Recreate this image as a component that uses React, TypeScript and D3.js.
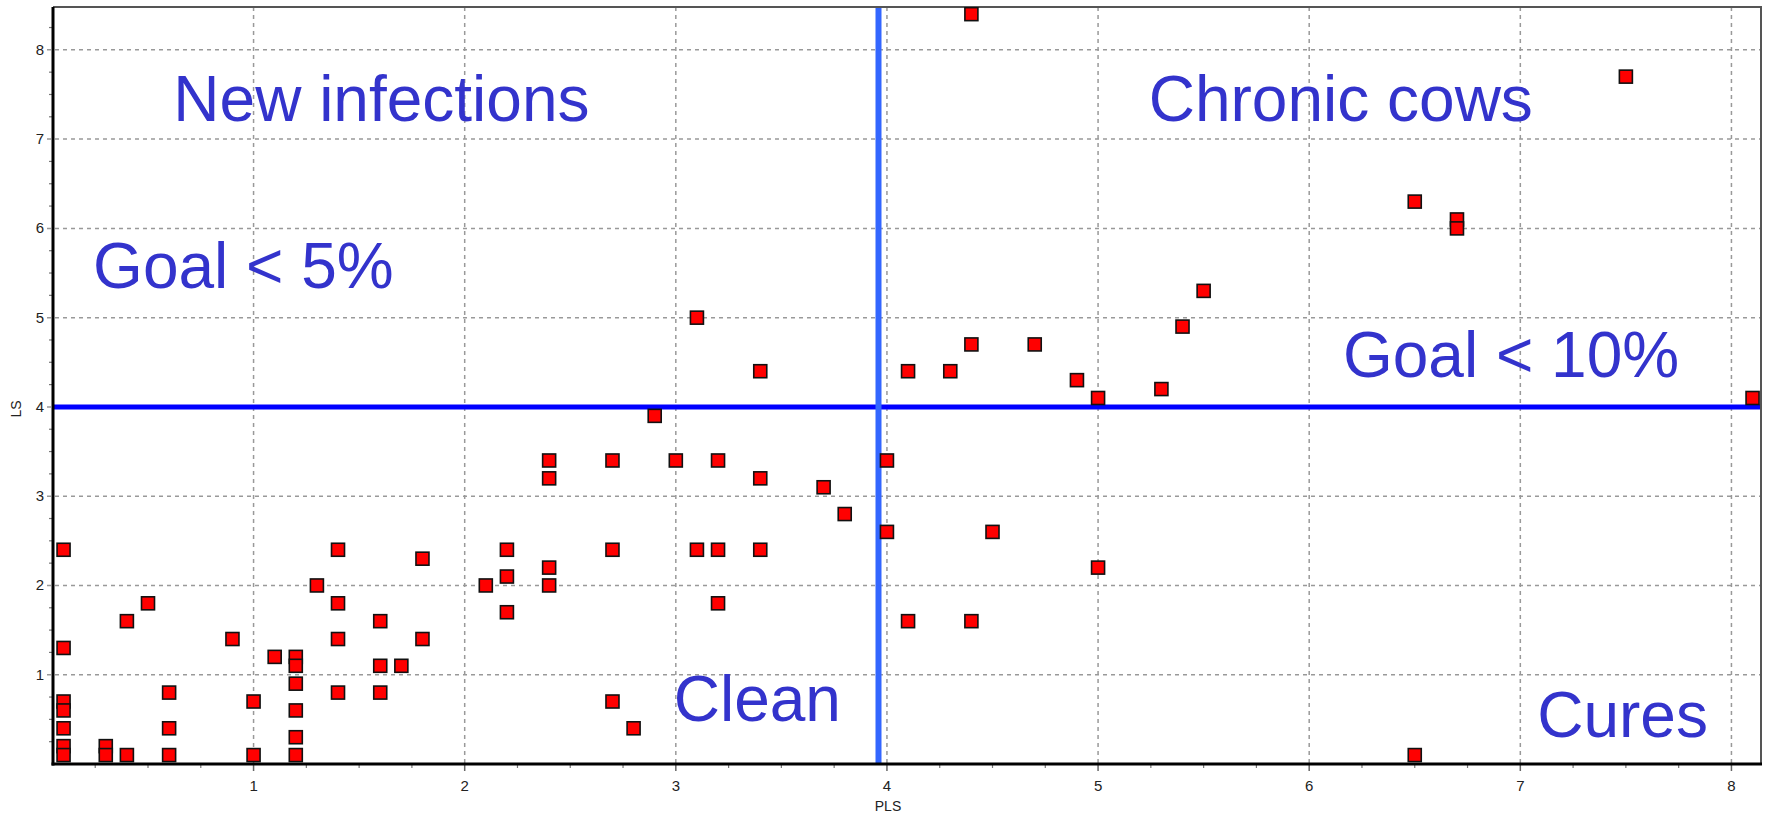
import React, { useEffect, useRef } from 'react';
import * as d3 from 'd3';

// PLS / LS pairs
const plsValues = [
  0.1, 0.1, 0.1, 0.1, 0.1, 0.1, 0.1,
  0.3, 0.3, 0.4, 0.4, 0.5, 0.6, 0.6, 0.6,
  0.9, 1.0, 1.0, 1.1, 1.2, 1.2, 1.2, 1.2, 1.2, 1.2,
  1.3, 1.4, 1.4, 1.4, 1.4, 1.6, 1.6, 1.6, 1.7, 1.8, 1.8,
  2.1, 2.2, 2.2, 2.2, 2.4, 2.4, 2.4, 2.4,
  2.7, 2.7, 2.7, 2.8, 2.9, 3.0, 3.1, 3.1, 3.2, 3.2, 3.2,
  3.4, 3.4, 3.4, 3.7, 3.8, 4.0, 4.0,
  4.1, 4.1, 4.3, 4.4, 4.4, 4.4, 4.5, 4.7, 4.9, 5.0, 5.0, 5.3, 5.4, 5.5,
  6.5, 6.7, 6.7, 7.5, 8.1, 6.5,
];
const lsValues = [
  2.4, 1.3, 0.7, 0.6, 0.4, 0.2, 0.1,
  0.2, 0.1, 0.1, 1.6, 1.8, 0.8, 0.4, 0.1,
  1.4, 0.7, 0.1, 1.2, 1.2, 1.1, 0.9, 0.6, 0.3, 0.1,
  2.0, 2.4, 1.8, 1.4, 0.8, 1.6, 1.1, 0.8, 1.1, 2.3, 1.4,
  2.0, 2.4, 2.1, 1.7, 3.4, 3.2, 2.2, 2.0,
  3.4, 2.4, 0.7, 0.4, 3.9, 3.4, 2.4, 5.0, 3.4, 2.4, 1.8,
  3.2, 2.4, 4.4, 3.1, 2.8, 3.4, 2.6,
  4.4, 1.6, 4.4, 4.7, 1.6, 8.4, 2.6, 4.7, 4.3, 4.1, 2.2, 4.2, 4.9, 5.3,
  6.3, 6.1, 6.0, 7.7, 4.1, 0.1,
];

const xTicks = [1, 2, 3, 4, 5, 6, 7, 8];
const yTicks = [1, 2, 3, 4, 5, 6, 7, 8];

// goal thresholds
const plsGoal = 3.96;
const lsGoal = 4;

// quadrant labels: [text, pls, ls] (left edge / baseline in data units)
const labelTexts = ['New infections', 'Chronic cows', 'Goal < 5%', 'Goal < 10%', 'Clean', 'Cures'];
const labelPls = [0.62, 5.24, 0.24, 6.16, 2.99, 7.08];
const labelLs = [7.2, 7.2, 5.33, 4.33, 0.48, 0.3];

const W = 1767;
const H = 816;

const App: React.FC = () => {
  const ref = useRef<SVGSVGElement>(null);

  useEffect(() => {
    if (!ref.current) return;
    document.body.style.margin = '0';
    const svg = d3.select(ref.current);
    svg.selectAll('*').remove();

    const margin = { top: 7, right: 6, bottom: 52, left: 53 };
    const x = d3.scaleLinear().domain([0.05, 8.14]).range([margin.left, W - margin.right]);
    const y = d3.scaleLinear().domain([0, 8.48]).range([H - margin.bottom, margin.top]);
    const [x0, x1] = x.range();
    const [y0, y1] = y.range();

    svg.append('rect').attr('width', W).attr('height', H).attr('fill', 'white');

    const font = "'Liberation Sans', Arial, sans-serif";

    // grid
    const grid = svg.append('g')
      .attr('stroke', '#999')
      .attr('stroke-width', 1.5)
      .attr('stroke-dasharray', '4,4');
    grid.selectAll('.vx').data(xTicks).join('line')
      .attr('x1', d => x(d)).attr('x2', d => x(d))
      .attr('y1', y1).attr('y2', y0);
    grid.selectAll('.hy').data(yTicks).join('line')
      .attr('class', 'hy')
      .attr('x1', x0 - 6).attr('x2', x1)
      .attr('y1', d => y(d)).attr('y2', d => y(d));

    // minor ticks
    const minorX = d3.range(0.25, 8.14, 0.25).filter(v => Math.abs(v - Math.round(v)) > 0.01);
    const minorY = d3.range(0.25, 8.48, 0.25).filter(v => Math.abs(v - Math.round(v)) > 0.01);
    svg.append('g').attr('stroke', '#777').attr('stroke-width', 1.2)
      .selectAll('line').data(minorX).join('line')
      .attr('x1', d => x(d)).attr('x2', d => x(d))
      .attr('y1', y0).attr('y2', y0 + 4);
    svg.append('g').attr('stroke', '#777').attr('stroke-width', 1.2)
      .selectAll('line').data(minorY).join('line')
      .attr('x1', x0 - 4).attr('x2', x0)
      .attr('y1', d => y(d)).attr('y2', d => y(d));
    svg.append('g').attr('stroke', '#666').attr('stroke-width', 1.5)
      .selectAll('line').data(xTicks).join('line')
      .attr('x1', d => x(d)).attr('x2', d => x(d))
      .attr('y1', y0).attr('y2', y0 + 7);

    // goal lines
    svg.append('line')
      .attr('x1', x0).attr('x2', x1)
      .attr('y1', y(lsGoal)).attr('y2', y(lsGoal))
      .attr('stroke', '#0000ff').attr('stroke-width', 5);
    svg.append('line')
      .attr('x1', x(plsGoal)).attr('x2', x(plsGoal))
      .attr('y1', y1).attr('y2', y0)
      .attr('stroke', '#3366ff').attr('stroke-width', 6);

    // quadrant labels
    svg.append('g')
      .selectAll('text').data(labelTexts).join('text')
      .attr('x', (_, i) => x(labelPls[i]))
      .attr('y', (_, i) => y(labelLs[i]))
      .attr('fill', '#3333cc')
      .attr('font-family', font)
      .attr('font-size', 64)
      .text(d => d);

    // frame
    svg.append('line').attr('x1', x0).attr('x2', x1 + 1).attr('y1', y1).attr('y2', y1)
      .attr('stroke', '#555').attr('stroke-width', 2);
    svg.append('line').attr('x1', x1).attr('x2', x1).attr('y1', y1).attr('y2', y0)
      .attr('stroke', '#555').attr('stroke-width', 2);

    // points
    const s = 13;
    const pts = plsValues.map((p, i) => ({ p, l: lsValues[i] }));
    svg.append('defs').append('clipPath').attr('id', 'plot')
      .append('rect').attr('x', x0).attr('y', y1).attr('width', x1 - x0).attr('height', y0 - y1);
    svg.append('g').attr('clip-path', 'url(#plot)')
      .selectAll('rect').data(pts).join('rect')
      .attr('x', d => x(d.p) - s / 2)
      .attr('y', d => y(d.l) - s / 2)
      .attr('width', s).attr('height', s)
      .attr('fill', '#ff0000')
      .attr('stroke', '#111')
      .attr('stroke-width', 1.6);

    // axes
    svg.append('line').attr('x1', x0).attr('x2', x0).attr('y1', y1).attr('y2', y0 + 1.5)
      .attr('stroke', '#000').attr('stroke-width', 3);
    svg.append('line').attr('x1', x0 - 1.5).attr('x2', x1 + 1).attr('y1', y0).attr('y2', y0)
      .attr('stroke', '#000').attr('stroke-width', 3);

    // tick labels
    svg.append('g').selectAll('text').data(xTicks).join('text')
      .attr('x', d => x(d)).attr('y', y0 + 27)
      .attr('text-anchor', 'middle')
      .attr('font-family', font).attr('font-size', 15).attr('fill', '#222')
      .text(d => d);
    svg.append('g').selectAll('text').data(yTicks).join('text')
      .attr('x', x0 - 9).attr('y', d => y(d) + 5)
      .attr('text-anchor', 'end')
      .attr('font-family', font).attr('font-size', 15).attr('fill', '#222')
      .text(d => d);

    // axis titles
    svg.append('text')
      .attr('x', 888).attr('y', H - 5)
      .attr('text-anchor', 'middle')
      .attr('font-family', font).attr('font-size', 14).attr('fill', '#222')
      .text('PLS');
    svg.append('text')
      .attr('transform', 'translate(21,409) rotate(-90)')
      .attr('text-anchor', 'middle')
      .attr('font-family', font).attr('font-size', 14).attr('fill', '#222')
      .text('LS');
  }, []);

  return (
    <svg ref={ref} width={W} height={H} style={{ position: 'absolute', left: 0, top: 0, display: 'block' }} />
  );
};

export default App;
